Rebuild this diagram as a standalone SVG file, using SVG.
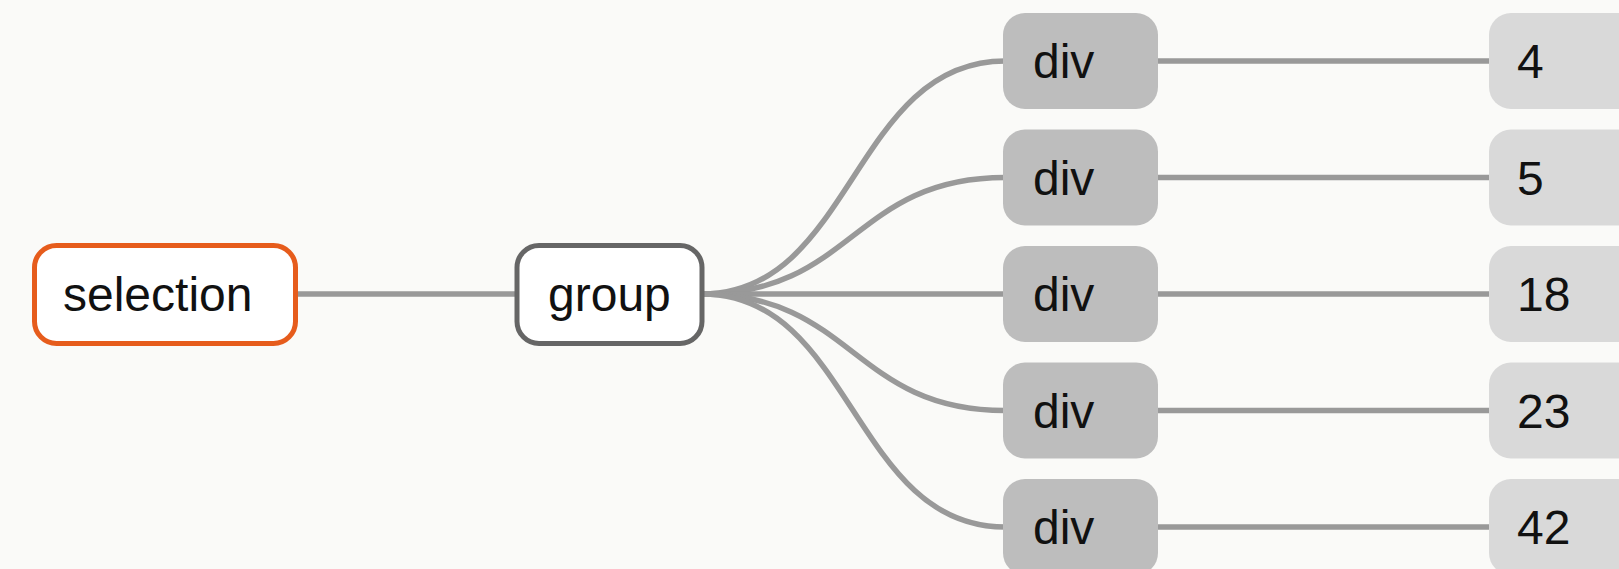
<svg xmlns="http://www.w3.org/2000/svg" width="1619" height="569" viewBox="0 0 1619 569">
<style>
.bg{fill:#fafaf8}
.link{fill:none;stroke:#999999;stroke-width:5.5}
.t{font-family:"Liberation Sans",Arial,sans-serif;font-size:48px;fill:#111111}
.sel{fill:#ffffff;stroke:#e65c1c;stroke-width:5}
.grp{fill:#ffffff;stroke:#666666;stroke-width:5}
.div{fill:#bdbdbd}
.num{fill:#d9d9d9}
</style>
<rect class="bg" x="0" y="0" width="1619" height="569"/>
<g id="connectors">
<path class="link" d="M298,294 H517"/>
<path class="link" d="M702,294 C853,294 853,61 1005,61"/>
<path class="link" d="M702,294 C853,294 853,177.5 1005,177.5"/>
<path class="link" d="M702,294 H1005"/>
<path class="link" d="M702,294 C853,294 853,410.5 1005,410.5"/>
<path class="link" d="M702,294 C853,294 853,527 1005,527"/>
<path class="link" d="M1156,61 H1491"/>
<path class="link" d="M1156,177.5 H1491"/>
<path class="link" d="M1156,294 H1491"/>
<path class="link" d="M1156,410.5 H1491"/>
<path class="link" d="M1156,527 H1491"/>
</g>
<g id="node-selection">
<rect class="sel" x="34.5" y="245.5" width="261" height="98" rx="22"/>
<text class="t" x="63" y="311">selection</text>
</g>
<g id="node-group">
<rect class="grp" x="517" y="245.5" width="185" height="98" rx="22"/>
<text class="t" x="548" y="311">group</text>
</g>
<g id="node-div1"><rect class="div" x="1003" y="13" width="155" height="96" rx="22"/><text class="t" x="1033" y="78">div</text></g>
<g id="node-div2"><rect class="div" x="1003" y="129.5" width="155" height="96" rx="22"/><text class="t" x="1033" y="194.5">div</text></g>
<g id="node-div3"><rect class="div" x="1003" y="246" width="155" height="96" rx="22"/><text class="t" x="1033" y="311">div</text></g>
<g id="node-div4"><rect class="div" x="1003" y="362.5" width="155" height="96" rx="22"/><text class="t" x="1033" y="427.5">div</text></g>
<g id="node-div5"><rect class="div" x="1003" y="479" width="155" height="96" rx="22"/><text class="t" x="1033" y="544">div</text></g>
<g id="node-4"><rect class="num" x="1489" y="13" width="155" height="96" rx="22"/><text class="t" x="1517" y="78">4</text></g>
<g id="node-5"><rect class="num" x="1489" y="129.5" width="155" height="96" rx="22"/><text class="t" x="1517" y="194.5">5</text></g>
<g id="node-18"><rect class="num" x="1489" y="246" width="155" height="96" rx="22"/><text class="t" x="1517" y="311">18</text></g>
<g id="node-23"><rect class="num" x="1489" y="362.5" width="155" height="96" rx="22"/><text class="t" x="1517" y="427.5">23</text></g>
<g id="node-42"><rect class="num" x="1489" y="479" width="155" height="96" rx="22"/><text class="t" x="1517" y="544">42</text></g>
</svg>
